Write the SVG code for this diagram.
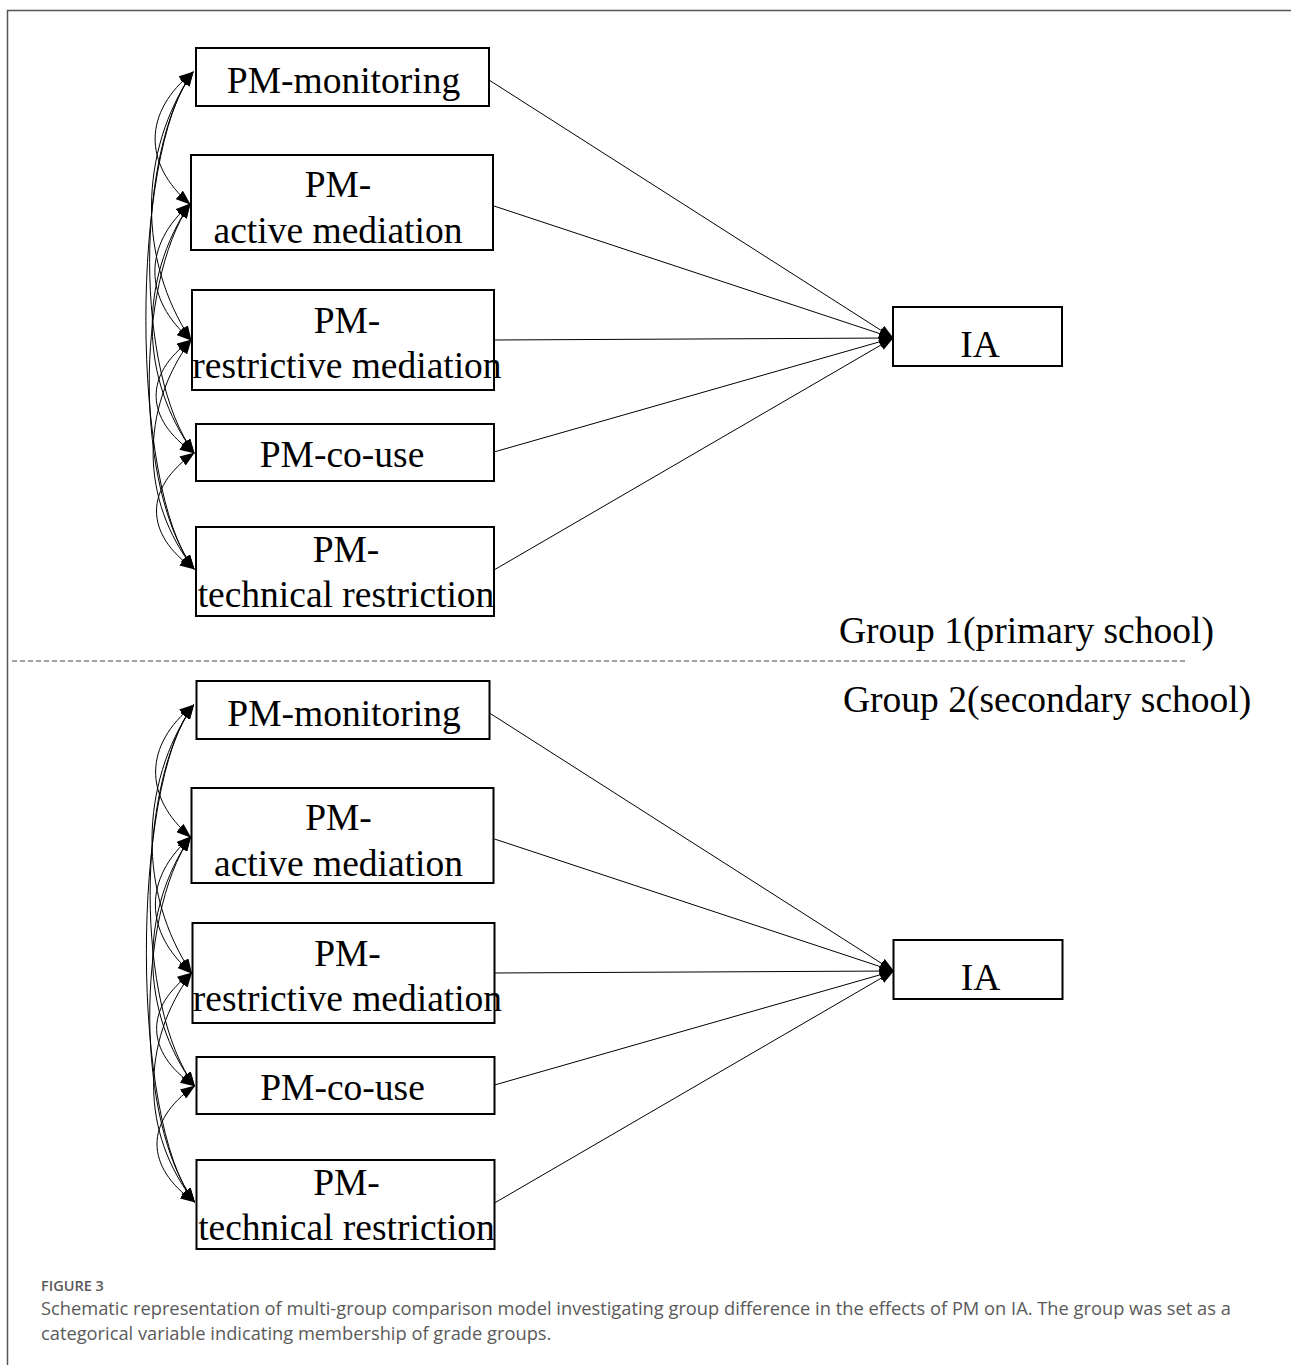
<svg xmlns="http://www.w3.org/2000/svg" width="1291" height="1365" viewBox="0 0 1291 1365">
<style>
.box{fill:#fff;stroke:#000;stroke-width:2}
.lbl{font-family:"Liberation Serif","Times New Roman",serif;font-size:37.5px;fill:#000;text-anchor:middle}
.grp{font-family:"Liberation Serif","Times New Roman",serif;font-size:37.5px;fill:#000}
.path{fill:none;stroke:#000;stroke-width:1}
.cov{fill:none;stroke:#000;stroke-width:1}
.cap{font-family:"Open Sans","Noto Sans",sans-serif;fill:#5a5a5a}
</style>
<defs>
<marker id="ah" markerUnits="userSpaceOnUse" markerWidth="15" markerHeight="11" refX="14" refY="5.5" orient="auto-start-reverse">
<path d="M0,0 L15,5.5 L0,11 Z" fill="#000"/>
</marker>
</defs>
<rect width="1291" height="1365" fill="#fff"/>
<path d="M7.5,1365 V10.5 H1291" fill="none" stroke="#555" stroke-width="1.5"/>

<!-- Group 1 -->
<g id="group1">
<g id="connectors1">
<path class="path" d="M489,80 L893,338" marker-end="url(#ah)"/>
<path class="path" d="M494,206 L893,338" marker-end="url(#ah)"/>
<path class="path" d="M494,340 L893,338" marker-end="url(#ah)"/>
<path class="path" d="M494,452 L893,338" marker-end="url(#ah)"/>
<path class="path" d="M494,570 L893,338" marker-end="url(#ah)"/>
<path class="cov" d="M193,72 C143,112 143,164 190,204" marker-start="url(#ah)" marker-end="url(#ah)"/>
<path class="cov" d="M193,72 C138,152 138,260 191,340" marker-start="url(#ah)" marker-end="url(#ah)"/>
<path class="cov" d="M193,72 C135,152 135,373 194,453" marker-start="url(#ah)" marker-end="url(#ah)"/>
<path class="cov" d="M193,72 C130,152 130,489 194,569" marker-start="url(#ah)" marker-end="url(#ah)"/>
<path class="cov" d="M190,204 C143,245 143,299 191,340" marker-start="url(#ah)" marker-end="url(#ah)"/>
<path class="cov" d="M190,204 C139,279 139,378 194,453" marker-start="url(#ah)" marker-end="url(#ah)"/>
<path class="cov" d="M190,204 C135,284 135,489 194,569" marker-start="url(#ah)" marker-end="url(#ah)"/>
<path class="cov" d="M191,340 C144,374 144,419 194,453" marker-start="url(#ah)" marker-end="url(#ah)"/>
<path class="cov" d="M191,340 C140,409 140,500 194,569" marker-start="url(#ah)" marker-end="url(#ah)"/>
<path class="cov" d="M194,453 C144,488 144,534 194,569" marker-start="url(#ah)" marker-end="url(#ah)"/>
</g>
<g id="g1-monitoring"><rect class="box" x="196" y="48" width="293" height="58"/><text class="lbl" x="343.5" y="93">PM-monitoring</text></g>
<g id="g1-active"><rect class="box" x="191" y="155" width="302" height="95"/><text class="lbl" x="338" y="197">PM-</text><text class="lbl" x="338" y="243">active mediation</text></g>
<g id="g1-restrictive"><rect class="box" x="192" y="290" width="302" height="100"/><text class="lbl" x="347" y="333">PM-</text><text class="lbl" x="347" y="378">restrictive mediation</text></g>
<g id="g1-couse"><rect class="box" x="196" y="424" width="298" height="57"/><text class="lbl" x="342" y="467">PM-co-use</text></g>
<g id="g1-technical"><rect class="box" x="196" y="527" width="298" height="89"/><text class="lbl" x="346" y="562">PM-</text><text class="lbl" x="346" y="607">technical restriction</text></g>
<g id="g1-ia"><rect class="box" x="893" y="307" width="169" height="59"/><text class="lbl" x="980" y="357">IA</text></g>
</g>

<g id="divider">
<text class="grp" x="839" y="643">Group 1(primary school)</text>
<line x1="12" y1="661" x2="1188" y2="661" stroke="#444" stroke-width="1" stroke-dasharray="5,3"/>
<text class="grp" x="843" y="712">Group 2(secondary school)</text>
</g>

<!-- Group 2 -->
<g id="group2" transform="translate(0.5,633)">
<g id="connectors2">
<path class="path" d="M489,80 L893,338" marker-end="url(#ah)"/>
<path class="path" d="M494,206 L893,338" marker-end="url(#ah)"/>
<path class="path" d="M494,340 L893,338" marker-end="url(#ah)"/>
<path class="path" d="M494,452 L893,338" marker-end="url(#ah)"/>
<path class="path" d="M494,570 L893,338" marker-end="url(#ah)"/>
<path class="cov" d="M193,72 C143,112 143,164 190,204" marker-start="url(#ah)" marker-end="url(#ah)"/>
<path class="cov" d="M193,72 C138,152 138,260 191,340" marker-start="url(#ah)" marker-end="url(#ah)"/>
<path class="cov" d="M193,72 C135,152 135,373 194,453" marker-start="url(#ah)" marker-end="url(#ah)"/>
<path class="cov" d="M193,72 C130,152 130,489 194,569" marker-start="url(#ah)" marker-end="url(#ah)"/>
<path class="cov" d="M190,204 C143,245 143,299 191,340" marker-start="url(#ah)" marker-end="url(#ah)"/>
<path class="cov" d="M190,204 C139,279 139,378 194,453" marker-start="url(#ah)" marker-end="url(#ah)"/>
<path class="cov" d="M190,204 C135,284 135,489 194,569" marker-start="url(#ah)" marker-end="url(#ah)"/>
<path class="cov" d="M191,340 C144,374 144,419 194,453" marker-start="url(#ah)" marker-end="url(#ah)"/>
<path class="cov" d="M191,340 C140,409 140,500 194,569" marker-start="url(#ah)" marker-end="url(#ah)"/>
<path class="cov" d="M194,453 C144,488 144,534 194,569" marker-start="url(#ah)" marker-end="url(#ah)"/>
</g>
<g id="g2-monitoring"><rect class="box" x="196" y="48" width="293" height="58"/><text class="lbl" x="343.5" y="93">PM-monitoring</text></g>
<g id="g2-active"><rect class="box" x="191" y="155" width="302" height="95"/><text class="lbl" x="338" y="197">PM-</text><text class="lbl" x="338" y="243">active mediation</text></g>
<g id="g2-restrictive"><rect class="box" x="192" y="290" width="302" height="100"/><text class="lbl" x="347" y="333">PM-</text><text class="lbl" x="347" y="378">restrictive mediation</text></g>
<g id="g2-couse"><rect class="box" x="196" y="424" width="298" height="57"/><text class="lbl" x="342" y="467">PM-co-use</text></g>
<g id="g2-technical"><rect class="box" x="196" y="527" width="298" height="89"/><text class="lbl" x="346" y="562">PM-</text><text class="lbl" x="346" y="607">technical restriction</text></g>
<g id="g2-ia"><rect class="box" x="893" y="307" width="169" height="59"/><text class="lbl" x="980" y="357">IA</text></g>
</g>

<g id="caption">
<text class="cap" x="41" y="1291" font-size="14.5" font-weight="600">FIGURE 3</text>
<text class="cap" x="41" y="1315" font-size="18.3">Schematic representation of multi-group comparison model investigating group difference in the effects of PM on IA. The group was set as a</text>
<text class="cap" x="41" y="1340" font-size="18.3">categorical variable indicating membership of grade groups.</text>
</g>
</svg>
